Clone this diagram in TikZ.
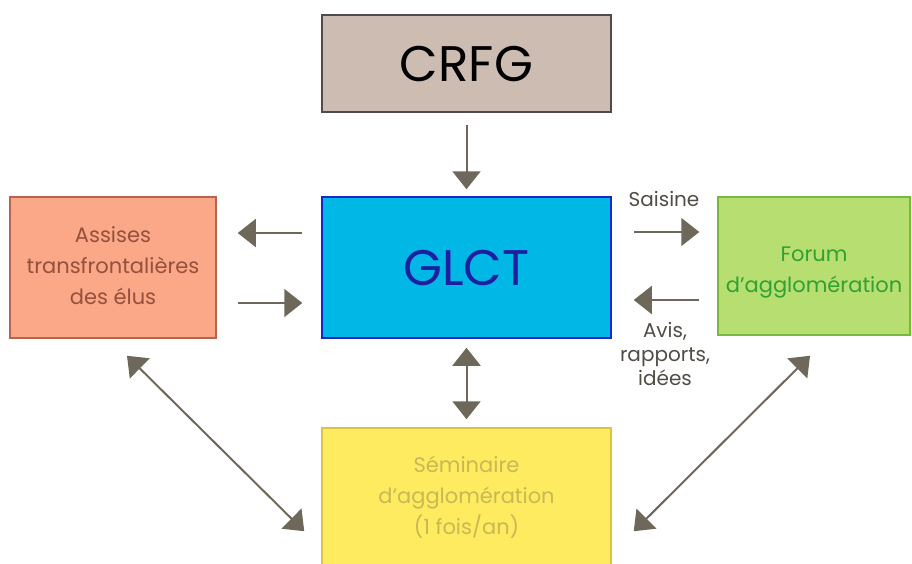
\documentclass[tikz,border=0pt]{standalone}
\usepackage{fontspec}
\setmainfont{Poppins}
\usetikzlibrary{arrows.meta}
\definecolor{arrc}{RGB}{110,104,90}
\definecolor{crfgfill}{RGB}{205,188,178}
\definecolor{crfgdraw}{RGB}{80,75,72}
\definecolor{glctfill}{RGB}{0,183,230}
\definecolor{glctdraw}{RGB}{20,40,200}
\definecolor{glcttext}{RGB}{30,30,160}
\definecolor{assfill}{RGB}{250,168,135}
\definecolor{assdraw}{RGB}{180,100,80}
\definecolor{asstext}{RGB}{150,80,60}
\definecolor{forfill}{RGB}{182,222,112}
\definecolor{fordraw}{RGB}{120,185,60}
\definecolor{fortext}{RGB}{50,160,50}
\definecolor{semfill}{RGB}{255,235,95}
\definecolor{semdraw}{RGB}{220,195,70}
\definecolor{semtext}{RGB}{200,185,85}
\definecolor{lbltext}{RGB}{80,76,70}
\tikzset{
  x=1pt,y=-1pt,
  boxstyle/.style={rectangle, line width=1.5pt, inner sep=0pt, align=center},
  arr/.style={draw=arrc, line width=2pt, -{Triangle[length=18pt,width=28pt]}},
  dbl/.style={draw=arrc, line width=2pt, {Triangle[length=18pt,width=28pt]}-{Triangle[length=18pt,width=28pt]}},
  boxtxt/.style={font=\fontsize{21}{31}\selectfont, align=center, inner sep=0pt},
  lbltxt/.style={font=\fontsize{20}{24}\selectfont, align=center, text=lbltext, inner sep=0pt}
}
\begin{document}
\begin{tikzpicture}
\useasboundingbox (0,0) rectangle (912,563);
\clip (0,0) rectangle (912,563);
\node[boxstyle, fill=crfgfill, draw=crfgdraw, minimum width=289pt, minimum height=97pt,
  font=\fontsize{50}{56}\selectfont, text=black] (crfg) at (466.5,63.5) {CRFG};
\node[boxstyle, fill=glctfill, draw=glctdraw, minimum width=289pt, minimum height=141pt,
  font=\fontsize{50}{56}\selectfont, text=glcttext] (glct) at (466.5,267.5) {GLCT};
\node[boxstyle, fill=assfill, draw=assdraw, minimum width=206pt, minimum height=141pt,
  label={[boxtxt, text=asstext, yshift=1.5pt]center:{Assises\\transfrontalières\\des élus}}] (ass) at (113,267.5) {};
\node[boxstyle, fill=forfill, draw=fordraw, minimum width=192pt, minimum height=138pt,
  label={[boxtxt, text=fortext, yshift=-7pt]center:{Forum\\d’agglomération}}] (forum) at (814,266) {};
\node[boxstyle, fill=semfill, draw=semdraw, minimum width=289pt, minimum height=150pt,
  label={[boxtxt, text=semtext, yshift=6pt]center:{Séminaire\\d’agglomération\\(1 fois/an)}}] (sem) at (466.5,503) {};
\node[lbltxt] (saisine) at (664,199) {Saisine};
\node[lbltxt] (avis) at (665,354) {Avis,\\rapports,\\idées};
% arrows
\draw[arr] ([shift={(0,12)}]crfg.south) -- ([shift={(0,-7)}]glct.north);
\draw[arr] ([shift={(-19,-34.5)}]glct.west) -- ([shift={(21,-34.5)}]ass.east);
\draw[arr] ([shift={(21,35.5)}]ass.east) -- ([shift={(-19,35.5)}]glct.west);
\draw[arr] ([shift={(22,-35.5)}]glct.east) -- ([shift={(-18,-34)}]forum.west);
\draw[arr] ([shift={(-18,34)}]forum.west) -- ([shift={(22,32.5)}]glct.east);
\draw[dbl] ([shift={(0,9)}]glct.south) -- ([shift={(0,-8)}]sem.north);
\coordinate (l1) at ([shift={(14,17)}]ass.south);
\coordinate (l2) at ([shift={(-17,104)}]sem.north west);
\draw[dbl] (l1) -- (l2);
\coordinate (r1) at ([shift={(-4,20)}]forum.south);
\coordinate (r2) at ([shift={(22,104)}]sem.north east);
\draw[dbl] (r1) -- (r2);
\end{tikzpicture}
\end{document}
